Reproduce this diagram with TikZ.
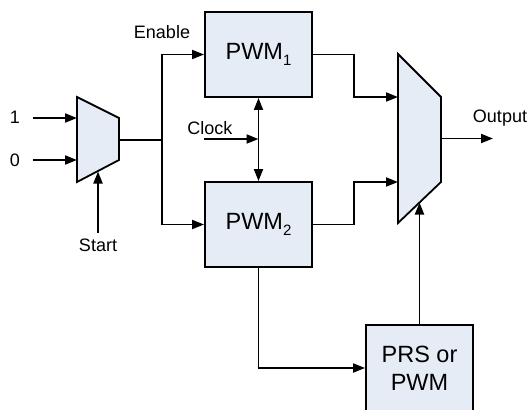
\documentclass[tikz,border=0pt]{standalone}
\usepackage{fontspec}
\setmainfont{Liberation Sans}
\usetikzlibrary{arrows.meta}
\definecolor{boxfill}{RGB}{230,236,246}
\newcommand{\subnum}[1]{\raisebox{-0.45ex}{\fontsize{15}{15}\selectfont #1}}
\begin{document}
\begin{tikzpicture}[x=1pt,y=-1pt,
  blk/.style={draw, line width=1.8pt, fill=boxfill, minimum width=107pt, minimum height=85pt,
    font=\fontsize{23.5}{28}\selectfont, align=center, inner sep=0pt},
  wire/.style={line width=1.8pt},
  arr/.style={wire, -{Triangle[length=12pt,width=9pt]}},
  darr/.style={wire, {Triangle[length=12pt,width=9pt]}-{Triangle[length=12pt,width=9pt]}},
  mux/.style={wire, fill=boxfill, line join=miter},
  lbl/.style={font=\fontsize{18}{21}\selectfont, inner sep=0pt}]
\useasboundingbox (0,0) rectangle (528,410);

% blocks
\node[blk] (pwm1) at (258.5,54.5) {PWM\subnum{1}};
\node[blk] (pwm2) at (258.5,224.5) {PWM\subnum{2}};
\node[blk, minimum height=86pt] (prs) at (419.5,368) {PRS or\\PWM};

% left multiplexer
\draw[mux] (77,97) -- (119,118) -- (119,160) -- (77,182) -- cycle;
\coordinate (m1in1) at (77,118);
\coordinate (m1in0) at (77,160);
\coordinate (m1out) at (119,140);
\coordinate (m1sel) at (98,171.5);

% right multiplexer
\draw[mux] (398,54) -- (441,97) -- (441,182) -- (398,223) -- cycle;
\coordinate (m2in1) at (398,97);
\coordinate (m2in2) at (398,182);
\coordinate (m2out) at (441,138.5);
\coordinate (m2sel) at (419.5,202.5);

% labels
\node[lbl] (one) at (15,117) {1};
\node[lbl] (zero) at (15,160) {0};
\node[lbl] (start) at (98,245) {Start};
\node[lbl] (enable) at (162,32) {Enable};
\node[lbl] (clock) at (210,128) {Clock};
\node[lbl] (output) at (500,118) {Output};

\coordinate (in1) at (33,118);
\coordinate (in0) at (33,160);
\coordinate (startp) at (98,233);
\coordinate (split) at (162,140);
\coordinate (clk) at (204,139);
\coordinate (clkj) at (258.5,139);
\coordinate (outp) at (493,138.5);
\coordinate (r1) at (354,54.5);
\coordinate (r2) at (354,224.5);

% connectors
\draw[arr] (in1) -- (m1in1);
\draw[arr] (in0) -- (m1in0);
\draw[arr] (startp) -- (m1sel);
\draw[wire] (m1out) -- (split);
\draw[arr] (split) |- (pwm1.west);
\draw[arr] (split) |- (pwm2.west);
\draw[darr] (pwm1.south) -- (pwm2.north);
\draw[arr] (clk) -- (clkj);
\draw[arr] (pwm1.east) -- (r1) |- (m2in1);
\draw[arr] (pwm2.east) -- (r2) |- (m2in2);
\draw[arr] (m2out) -- (outp);
\draw[arr] (prs.north) -- (m2sel);
\draw[arr] (pwm2.south) |- (prs.west);
\end{tikzpicture}
\end{document}
